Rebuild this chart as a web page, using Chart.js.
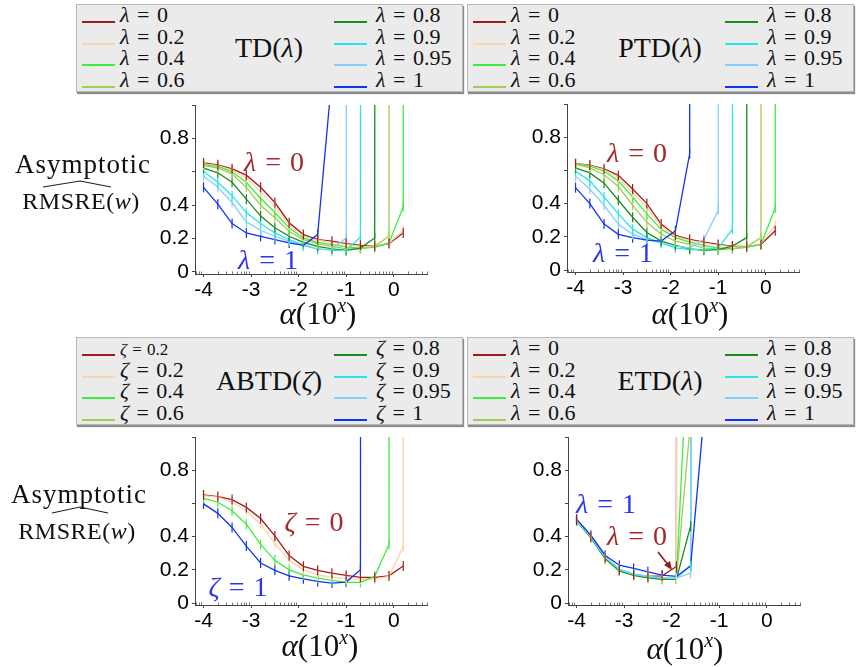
<!DOCTYPE html>
<html>
<head>
<meta charset="utf-8">
<script src="https://cdn.jsdelivr.net/npm/chart.js"></script>
<style>
  body { margin:0; width:857px; height:667px; background:#fff; position:relative; overflow:hidden; font-family:'Liberation Serif', serif; color:#111; }
  canvas { position:absolute; }
  .legend { position:absolute; width:385px; height:86px; background:#ebebeb; border:1px solid #b8b8b8; box-shadow:1px 2px 1px #8c8c8c; }
  .item { position:absolute; font-size:22px; line-height:22px; white-space:nowrap; word-spacing:2px; }
  .item.small { font-size:17px; line-height:17px; word-spacing:1px; }
  .swatch { position:absolute; width:33px; height:2px; }
  .ttl { position:absolute; left:102px; top:28px; width:180px; text-align:center; font-size:28px; line-height:30px; }
  .ann { position:absolute; font-size:28px; white-space:nowrap; transform:translate(-50%,-50%); word-spacing:2px; }
  .lbl { position:absolute; white-space:nowrap; transform:translate(-50%,-50%); }
</style>
</head>
<body>
<div class="legend" id="leg1" style="left:76px;top:4px"></div>
<div class="legend" id="leg2" style="left:467px;top:4px"></div>
<div class="legend" id="leg3" style="left:76px;top:337px"></div>
<div class="legend" id="leg4" style="left:467px;top:337px"></div>

<canvas id="c1" width="304" height="209" style="left:135px;top:99px"></canvas>
<canvas id="c2" width="304" height="208" style="left:507px;top:98px"></canvas>
<canvas id="c3" width="304" height="208" style="left:135px;top:431px"></canvas>
<canvas id="c4" width="304" height="208" style="left:508px;top:431px"></canvas>

<!-- y axis titles -->
<div class="lbl" style="left:83px;top:164px;font-size:27px;letter-spacing:1px">Asymptotic</div>
<svg style="position:absolute;left:40px;top:178px" width="74" height="12"><path d="M3 9 L40 3 L71 9" fill="none" stroke="#222" stroke-width="1.2"/></svg>
<div class="lbl" style="left:81px;top:201px;font-size:24px;letter-spacing:0.5px">RMSRE(<i>w</i>)</div>

<div class="lbl" style="left:79px;top:494px;font-size:27px;letter-spacing:1px">Asymptotic</div>
<svg style="position:absolute;left:49px;top:504px" width="62" height="12"><path d="M3 9 L31 3 L59 9" fill="none" stroke="#222" stroke-width="1.2"/></svg>
<div class="lbl" style="left:77px;top:531px;font-size:24px;letter-spacing:0.5px">RMSRE(<i>w</i>)</div>

<!-- x axis titles -->
<div class="lbl" style="left:318px;top:313px;font-size:31px"><i>α</i>(10<sup style="font-size:20px"><i>x</i></sup>)</div>
<div class="lbl" style="left:690px;top:313px;font-size:31px"><i>α</i>(10<sup style="font-size:20px"><i>x</i></sup>)</div>
<div class="lbl" style="left:320px;top:645px;font-size:31px"><i>α</i>(10<sup style="font-size:20px"><i>x</i></sup>)</div>
<div class="lbl" style="left:685px;top:648px;font-size:31px"><i>α</i>(10<sup style="font-size:20px"><i>x</i></sup>)</div>

<!-- curve annotations -->
<div class="ann" style="left:274px;top:162px;color:#a12a2a"><i>λ</i> = 0</div>
<div class="ann" style="left:268px;top:260px;color:#2b35ee"><i>λ</i> = 1</div>
<div class="ann" style="left:637px;top:153px;color:#a12a2a"><i>λ</i> = 0</div>
<div class="ann" style="left:623px;top:253px;color:#2b35ee"><i>λ</i> = 1</div>
<div class="ann" style="left:314px;top:522px;color:#a12a2a"><i>ζ</i> = 0</div>
<div class="ann" style="left:238px;top:587px;color:#2b35ee"><i>ζ</i> = 1</div>
<div class="ann" style="left:606px;top:504px;color:#2b35ee"><i>λ</i> = 1</div>
<div class="ann" style="left:637px;top:536px;color:#a12a2a"><i>λ</i> = 0</div>
<svg style="position:absolute;left:650px;top:545px" width="30" height="30">
  <path d="M8 7 L19 21" stroke="#8e1a1a" stroke-width="1.6"/>
  <path d="M22 25 L14 20 L20 16 Z" fill="#8e1a1a"/>
</svg>

<script>
// x positions (log10 of step size) and tick labels
var alphaExp = [-4, -3.7, -3.4, -3.1, -2.8, -2.5, -2.2, -1.9, -1.6, -1.3, -1.0, -0.7, -0.4, -0.1, 0.2, 0.5];
var xTicks = [-4, -3, -2, -1, 0];
var xTickLabels = ['-4', '-3', '-2', '-1', '0'];
var yTicks = [0, 0.2, 0.4, 0.6, 0.8, 1.0];
var yTickLabels = ['0', '0.2', '0.4', '', '0.8', ''];
var DIV = 1000; // diverged, far above the plot

var lambdaLabels = ['λ = 0', 'λ = 0.2', 'λ = 0.4', 'λ = 0.6', 'λ = 0.8', 'λ = 0.9', 'λ = 0.95', 'λ = 1'];
var zetaLabels = ['ζ = 0.2', 'ζ = 0.2', 'ζ = 0.4', 'ζ = 0.6', 'ζ = 0.8', 'ζ = 0.9', 'ζ = 0.95', 'ζ = 1'];
var colors = ['#a01c1c', '#fcd3aa', '#3fec3f', '#a2cc55', '#1a8c1a', '#28e6e6', '#86cffc', '#1234f0'];

// TD(lambda)
var td0   = [0.653, 0.642, 0.618, 0.58, 0.507, 0.416, 0.295, 0.224, 0.194, 0.184, 0.170, 0.160, 0.154, 0.170, 0.234];
var td02  = [0.648, 0.637, 0.610, 0.565, 0.480, 0.390, 0.282, 0.214, 0.190, 0.178, 0.164, 0.154, 0.152, 0.172, 0.250];
var td04  = [0.642, 0.632, 0.600, 0.537, 0.440, 0.356, 0.265, 0.204, 0.178, 0.164, 0.150, 0.143, 0.147, 0.174, 0.390, DIV];
var td06  = [0.638, 0.622, 0.588, 0.507, 0.400, 0.325, 0.244, 0.194, 0.168, 0.154, 0.139, 0.139, 0.154, 0.214, DIV];
var td08  = [0.622, 0.594, 0.537, 0.436, 0.335, 0.265, 0.214, 0.178, 0.154, 0.139, 0.129, 0.143, 0.204, DIV];
var td09  = [0.602, 0.537, 0.457, 0.356, 0.290, 0.234, 0.194, 0.164, 0.139, 0.129, 0.129, 0.208, DIV];
var td095 = [0.574, 0.507, 0.416, 0.300, 0.250, 0.214, 0.184, 0.158, 0.135, 0.137, 0.204, DIV];
var td1   = [0.507, 0.406, 0.290, 0.234, 0.214, 0.194, 0.174, 0.160, 0.224, 1.17];

// PTD(lambda)
var ptd0   = [0.640, 0.632, 0.610, 0.570, 0.488, 0.400, 0.277, 0.209, 0.185, 0.168, 0.154, 0.144, 0.140, 0.154, 0.236];
var ptd02  = [0.638, 0.628, 0.603, 0.555, 0.465, 0.375, 0.265, 0.203, 0.178, 0.162, 0.148, 0.140, 0.138, 0.158, 0.270];
var ptd04  = [0.640, 0.626, 0.595, 0.537, 0.440, 0.338, 0.246, 0.195, 0.168, 0.148, 0.133, 0.129, 0.137, 0.154, 0.373, DIV];
var ptd06  = [0.636, 0.615, 0.574, 0.503, 0.390, 0.287, 0.215, 0.174, 0.154, 0.133, 0.123, 0.127, 0.140, 0.195, DIV];
var ptd08  = [0.615, 0.585, 0.523, 0.420, 0.318, 0.226, 0.174, 0.148, 0.127, 0.119, 0.123, 0.144, 0.195, DIV];
var ptd09  = [0.595, 0.537, 0.440, 0.338, 0.246, 0.195, 0.164, 0.133, 0.123, 0.123, 0.133, 0.246, DIV];
var ptd095 = [0.564, 0.488, 0.390, 0.277, 0.215, 0.185, 0.164, 0.144, 0.133, 0.185, 0.360, DIV];
var ptd1   = [0.496, 0.400, 0.277, 0.215, 0.195, 0.180, 0.174, 0.236, 0.700, DIV];

// ABTD(zeta): only four curves are drawn
var abtd0  = [0.651, 0.641, 0.623, 0.576, 0.509, 0.404, 0.286, 0.221, 0.197, 0.180, 0.166, 0.154, 0.154, 0.164, 0.223];
var abtd02 = [0.647, 0.637, 0.607, 0.556, 0.475, 0.359, 0.257, 0.200, 0.170, 0.156, 0.146, 0.144, 0.146, 0.160, 0.339, DIV];
var abtd04 = [0.631, 0.607, 0.556, 0.475, 0.353, 0.257, 0.200, 0.170, 0.150, 0.136, 0.124, 0.124, 0.160, 0.353, DIV];
var abtd1  = [0.597, 0.540, 0.455, 0.343, 0.241, 0.197, 0.164, 0.146, 0.130, 0.120, 0.126, 0.201, DIV];

// ETD(lambda)
var etd0   = [0.500, 0.400, 0.275, 0.200, 0.172, 0.160, 0.164, 0.220, DIV];
var etd02  = [0.500, 0.400, 0.272, 0.198, 0.170, 0.157, 0.148, 0.148, DIV];
var etd04  = [0.495, 0.394, 0.268, 0.194, 0.168, 0.154, 0.144, 0.144, 1.9];
var etd06  = [0.495, 0.396, 0.270, 0.196, 0.169, 0.155, 0.145, 0.145, 1.1];
var etd08  = [0.495, 0.394, 0.268, 0.194, 0.166, 0.152, 0.143, 0.144, 0.464, DIV];
var etd09  = [0.497, 0.398, 0.275, 0.200, 0.172, 0.158, 0.148, 0.148, 0.224, DIV];
var etd095 = [0.498, 0.400, 0.278, 0.205, 0.176, 0.162, 0.152, 0.150, 0.180, DIV];
var etd1   = [0.505, 0.408, 0.288, 0.228, 0.208, 0.188, 0.168, 0.160, 0.224, 1.2];

function buildLegend(id, labels, title, smallFirst){
  var box = document.getElementById(id);
  var rowsY = [16.5, 38.5, 60, 82];
  labels.forEach(function(lab, i){
    var col = i < 4 ? 0 : 1, row = i % 4;
    var small = smallFirst && i === 0;
    var sw = document.createElement('div');
    sw.className = 'swatch';
    sw.style.left = (col ? 257 : 5) + 'px';
    sw.style.top = (rowsY[row] - 1) + 'px';
    sw.style.background = colors[i];
    box.appendChild(sw);
    var t = document.createElement('div');
    t.className = 'item' + (small ? ' small' : '');
    t.style.left = (col ? 299 : 43) + 'px';
    t.style.top = (rowsY[row] - (small ? 14 : 18)) + 'px';
    t.innerHTML = '<i>' + lab.charAt(0) + '</i>' + lab.slice(1);
    box.appendChild(t);
  });
  var tt = document.createElement('div');
  tt.className = 'ttl';
  tt.innerHTML = title;
  box.appendChild(tt);
}
buildLegend('leg1', lambdaLabels, 'TD(<i>λ</i>)');
buildLegend('leg2', lambdaLabels, 'PTD(<i>λ</i>)');
buildLegend('leg3', zetaLabels, 'ABTD(<i>ζ</i>)', true);
buildLegend('leg4', lambdaLabels, 'ETD(<i>λ</i>)');

// small vertical error bars at each point
var errBars = {
  id: 'errBars',
  afterDatasetsDraw: function(chart){
    var ctx = chart.ctx, a = chart.chartArea;
    ctx.save();
    ctx.beginPath(); ctx.rect(a.left, a.top, a.right - a.left, a.bottom - a.top); ctx.clip();
    for (var i = chart.data.datasets.length - 1; i >= 0; i--) {
      var ds = chart.data.datasets[i];
      ctx.strokeStyle = ds.borderColor; ctx.lineWidth = 1.2;
      chart.getDatasetMeta(i).data.forEach(function(p){
        if (p.y < a.top || p.y > a.bottom) return;
        ctx.beginPath(); ctx.moveTo(p.x, p.y - 5); ctx.lineTo(p.x, p.y + 5); ctx.stroke();
      });
    }
    ctx.restore();
  }
};
// log minor ticks along the x axis
var minorTicks = {
  id: 'minorTicks',
  afterDraw: function(chart){
    var ctx = chart.ctx, sx = chart.scales.x, b = chart.chartArea.bottom;
    ctx.save(); ctx.strokeStyle = '#777'; ctx.lineWidth = 1;
    for (var n = -5; n <= 0; n++) for (var k = 2; k <= 9; k++) {
      var v = n + Math.log10(k);
      if (v < sx.min || v > sx.max) continue;
      var px = Math.round(sx.getPixelForValue(v)) + 0.5;
      ctx.beginPath(); ctx.moveTo(px, b); ctx.lineTo(px, b - 2.5); ctx.stroke();
    }
    ctx.restore();
  }
};

function makePanel(id, series, idx){
  var n = series.length;
  var datasets = series.map(function(vals, i){
    return {
      data: vals.map(function(v, k){ return {x: alphaExp[k], y: v}; }),
      borderColor: colors[idx[i]],
      borderWidth: 1.3,
      pointRadius: 0,
      tension: 0,
      order: n - 1 - i
    };
  });
  new Chart(document.getElementById(id), {
    type: 'line',
    data: { datasets: datasets },
    options: {
      responsive: false, animation: false, devicePixelRatio: 1,
      layout: { padding: { top: 6, right: 12, left: 0, bottom: 0 } },
      plugins: { legend: { display: false }, tooltip: { enabled: false } },
      scales: {
        x: {
          type: 'linear', min: -4.18, max: 0.7,
          afterBuildTicks: function(s){ s.ticks = xTicks.map(function(v){ return {value: v}; }); },
          afterFit: function(s){ s.height = 34; s.paddingLeft = 0; s.paddingRight = 0; },
          ticks: { callback: function(v, i){ return xTickLabels[i]; }, autoSkip: false, maxRotation: 0, padding: 1,
                   color: '#000', font: { family: 'Liberation Sans', size: 21 } },
          grid: { drawOnChartArea: false, tickLength: 3, color: '#444' },
          border: { color: '#444', width: 1 }
        },
        y: {
          min: -0.012, max: 1.0,
          afterBuildTicks: function(s){ s.ticks = yTicks.map(function(v){ return {value: v}; }); },
          afterFit: function(s){ s.width = 60; s.paddingTop = 0; s.paddingBottom = 0; },
          ticks: { callback: function(v, i){ return yTickLabels[i]; }, autoSkip: false, padding: 3,
                   color: '#000', font: { family: 'Liberation Sans', size: 21 } },
          grid: { drawOnChartArea: false, tickLength: 3, color: '#444' },
          border: { color: '#444', width: 1 }
        }
      }
    },
    plugins: [errBars, minorTicks]
  });
}

makePanel('c1', [td0, td02, td04, td06, td08, td09, td095, td1], [0,1,2,3,4,5,6,7]);
makePanel('c2', [ptd0, ptd02, ptd04, ptd06, ptd08, ptd09, ptd095, ptd1], [0,1,2,3,4,5,6,7]);
makePanel('c3', [abtd0, abtd02, abtd04, abtd1], [0,1,2,7]);
makePanel('c4', [etd0, etd02, etd04, etd06, etd08, etd09, etd095, etd1], [0,1,2,3,4,5,6,7]);
</script>
</body>
</html>
